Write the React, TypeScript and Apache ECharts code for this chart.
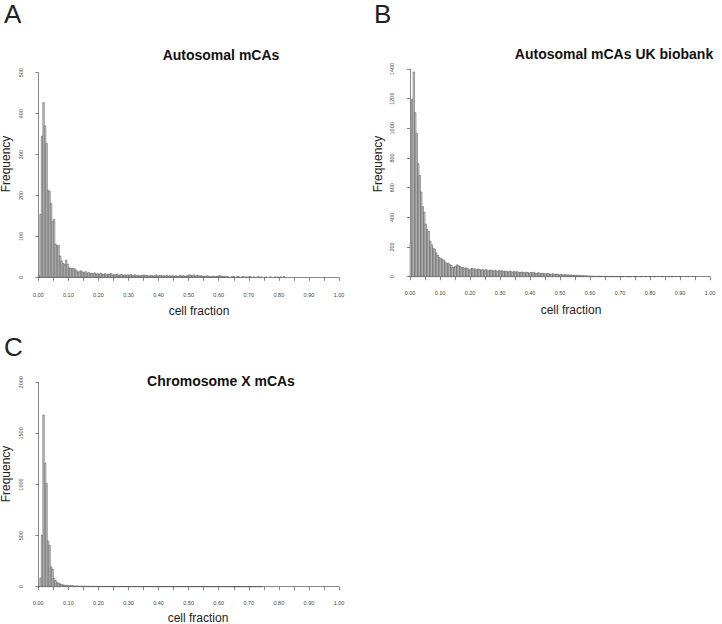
import React, { useEffect, useRef } from "react";
import * as echarts from "echarts";

const BIN = 0.005;

const titles = ["Autosomal mCAs", "Autosomal mCAs UK biobank", "Chromosome X mCAs"];
const panelLetters = ["A", "B", "C"];
const xAxisName = "cell fraction";
const yAxisName = "Frequency";
const yMaxes = [500, 1400, 2000];
const yIntervals = [100, 200, 500];

// Panel A: counts per 0.005-wide cell-fraction bin, starting at 0
const countsA = [
  4, 154, 345, 427, 370, 327, 213, 210, 181, 136,
  142, 81, 77, 78, 52, 40, 34, 31, 42, 32,
  23, 22, 21, 22, 20, 16, 12, 15, 16, 13,
  11, 14, 10, 12, 9, 10, 9, 11, 8, 9,
  7, 10, 8, 7, 9, 6, 8, 7, 9, 5,
  7, 6, 8, 5, 6, 7, 5, 6, 4, 6,
  5, 7, 4, 5, 6, 4, 5, 3, 5, 4,
  6, 4, 5, 3, 4, 5, 3, 4, 6, 3,
  4, 5, 3, 4, 3, 5, 2, 4, 3, 4,
  3, 4, 2, 3, 5, 3, 4, 2, 3, 4,
  6, 5, 4, 6, 3, 5, 4, 3, 4, 2,
  3, 2, 4, 2, 1, 2, 3, 1, 2, 3,
  4, 3, 2, 2, 1, 2, 1, 0, 1, 2,
  1, 0, 2, 1, 0, 1, 2, 0, 1, 0,
  2, 1, 0, 1, 0, 0, 2, 0, 1, 0,
  0, 1, 0, 0, 1, 0, 0, 1, 0, 1,
  0, 1, 0, 2,
];

// Panel B: UK biobank counts per 0.005 bin
const countsB = [
  225, 1195, 1380, 1105, 965, 762, 682, 570, 472, 435,
  355, 318, 305, 240, 215, 192, 185, 162, 145, 130,
  122, 118, 112, 100, 88, 92, 82, 76, 62, 66,
  72, 80, 74, 68, 60, 62, 56, 60, 54, 46,
  52, 58, 50, 54, 46, 52, 48, 44, 50, 42,
  48, 44, 40, 46, 42, 38, 44, 40, 36, 42,
  38, 40, 34, 38, 36, 32, 38, 34, 30, 36,
  32, 34, 30, 28, 32, 30, 26, 30, 28, 24,
  28, 26, 30, 24, 22, 26, 24, 20, 24, 22,
  18, 22, 20, 18, 16, 20, 14, 18, 16, 12,
  16, 14, 12, 15, 11, 13, 10, 12, 9, 11,
  8, 10, 7, 9, 6, 8, 5, 7, 5, 4,
  5, 3, 4, 3, 2, 3, 4, 2, 3, 2,
  3, 2, 1, 2, 3, 1, 2, 1, 2, 1,
  1, 2, 1, 0, 1, 2, 1, 1, 0, 1,
  2, 1, 0, 1, 1, 0, 2, 1, 0, 1,
  1, 0, 1, 2, 0, 1, 0, 1, 1, 0,
  1, 0, 1, 0, 2, 1, 0, 1, 0, 1,
  1, 0, 0, 1, 0, 1, 0, 0, 1, 0,
  1,
];

// Panel C: chromosome X counts per 0.005 bin
const countsC = [
  0, 85, 505, 1680, 1210, 1010, 448, 405, 195, 172,
  82, 60, 40, 35, 28, 22, 18, 15, 12, 14,
  10, 9, 11, 8, 7, 8, 6, 5, 7, 5,
  4, 6, 4, 5, 3, 4, 5, 3, 4, 3,
  3, 2, 4, 3, 2, 3, 2, 3, 2, 2,
  3, 2, 1, 2, 3, 2, 4, 2, 1, 2,
  2, 1, 3, 2, 1, 2, 1, 2, 3, 1,
  2, 1, 1, 2, 1, 3, 1, 1, 2, 1,
  1, 2, 1, 1, 0, 1, 2, 1, 1, 0,
  1, 1, 2, 0, 1, 1, 0, 1, 1, 2,
  1, 0, 1, 1, 0, 1, 2, 1, 0, 1,
  1, 0, 1, 0, 1, 1, 0, 1, 0, 1,
  1, 0, 0, 1, 0, 1, 0, 1, 0, 0,
  1, 0, 1, 0, 0, 1, 0, 1, 0, 0,
  1, 0, 0, 1, 0, 1, 0, 0, 1,
];

const allCounts = [countsA, countsB, countsC];
const drawZero = [false, false, true];

const grids = [
  { left: 38.3, top: 72.7, width: 300.7, height: 204.6 },
  { left: 410, top: 69, width: 300, height: 207.7 },
  { left: 38.3, top: 382.3, width: 300.7, height: 204.4 },
];
const yOffsets = [11.6, 12.5, 11.6];
const xOffsets = [9.4, 8.4, 8.4];

const AXIS_COLOR = "#555";
const LABEL_COLOR = "#444";
const FONT = "Liberation Sans, Arial, Helvetica, sans-serif";

export default function App() {
  const ref = useRef<HTMLDivElement>(null);
  useEffect(() => {
    if (!ref.current) return;
    const chart = echarts.init(ref.current, null, { renderer: "svg" });

    const xAxes = grids.map((_, i) => ({
      type: "value",
      gridIndex: i,
      min: 0,
      max: 1,
      interval: 0.05,
      offset: xOffsets[i],
      axisLine: { show: true, lineStyle: { color: AXIS_COLOR, width: 0.7 } },
      axisTick: { show: true, length: 3.5, lineStyle: { color: AXIS_COLOR, width: 0.7 } },
      axisLabel: {
        show: true,
        fontSize: 5.5,
        color: LABEL_COLOR,
        fontFamily: FONT,
        margin: 5,
        formatter: (v: number) => {
          const k = Math.round(v * 100);
          return k % 10 === 0 ? (k / 100).toFixed(2) : "";
        },
      },
      splitLine: { show: false },
    }));

    const yAxes = grids.map((_, i) => ({
      type: "value",
      gridIndex: i,
      min: 0,
      max: yMaxes[i],
      interval: yIntervals[i],
      offset: yOffsets[i],
      axisLine: { show: true, lineStyle: { color: AXIS_COLOR, width: 0.7 } },
      axisTick: { show: true, length: 3, lineStyle: { color: AXIS_COLOR, width: 0.7 } },
      axisLabel: {
        show: true,
        rotate: 90,
        fontSize: 5.5,
        color: LABEL_COLOR,
        fontFamily: FONT,
        margin: 2.5,
        formatter: (v: number) => String(Math.round(v)),
      },
      splitLine: { show: false },
    }));

    const series = allCounts.map((counts, i) => ({
      type: "custom",
      xAxisIndex: i,
      yAxisIndex: i,
      clip: false,
      data: counts.map((v, k) => [k * BIN, v]),
      renderItem: (params: any, api: any) => {
        const x0 = api.value(0);
        const v = api.value(1);
        if (v === 0 && !drawZero[i]) return null;
        const p0 = api.coord([x0, 0]);
        const p1 = api.coord([x0 + BIN, v]);
        return {
          type: "rect",
          shape: {
            x: p0[0],
            y: p1[1],
            width: p1[0] - p0[0],
            height: p0[1] - p1[1],
          },
          style: { fill: "#cfcfcf", stroke: "#4a4a4a", lineWidth: 0.5 },
        };
      },
    }));

    const graphic: any[] = [];
    const letterPos = [
      [4, 1],
      [374, 1],
      [4, 334],
    ];
    panelLetters.forEach((t, i) => {
      graphic.push({
        type: "text",
        x: letterPos[i][0],
        y: letterPos[i][1],
        style: { text: t, font: `normal 26px ${FONT}`, fill: "#222", textAlign: "left", textVerticalAlign: "top" },
      });
    });
    const titlePos = [
      [221, 55],
      [614, 54],
      [221, 381],
    ];
    titles.forEach((t, i) => {
      graphic.push({
        type: "text",
        x: titlePos[i][0],
        y: titlePos[i][1],
        style: { text: t, font: `bold 14px ${FONT}`, fill: "#111", textAlign: "center", textVerticalAlign: "middle" },
      });
    });
    const xNamePos = [
      [199, 310.7],
      [571, 310],
      [198, 617.5],
    ];
    xNamePos.forEach((p) => {
      graphic.push({
        type: "text",
        x: p[0],
        y: p[1],
        style: { text: xAxisName, font: `normal 12px ${FONT}`, fill: "#222", textAlign: "center", textVerticalAlign: "middle" },
      });
    });
    const yNamePos = [
      [6, 164],
      [377.5, 164],
      [6, 474],
    ];
    yNamePos.forEach((p) => {
      graphic.push({
        type: "text",
        x: p[0],
        y: p[1],
        rotation: Math.PI / 2,
        style: { text: yAxisName, font: `normal 12px ${FONT}`, fill: "#222", textAlign: "center", textVerticalAlign: "middle" },
      });
    });

    chart.setOption({
      animation: false,
      backgroundColor: "#fff",
      grid: grids.map((g) => ({ ...g, containLabel: false })),
      xAxis: xAxes,
      yAxis: yAxes,
      series,
      graphic,
    } as any);

    return () => chart.dispose();
  }, []);

  return (
    <div
      ref={ref}
      style={{ position: "absolute", left: 0, top: 0, width: 722, height: 624 }}
    />
  );
}
